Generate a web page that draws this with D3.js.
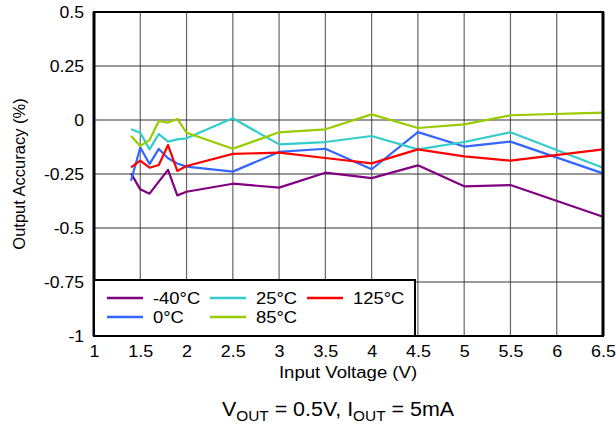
<!DOCTYPE html>
<html>
<head>
<meta charset="utf-8">
<script src="https://cdn.jsdelivr.net/npm/d3@7"></script>
<style>
  body { margin: 0; background: #fff; }
  text { font-family: "Liberation Sans", Arial, sans-serif; }
</style>
</head>
<body>
<div id="chart"></div>
<script>
var voltages = [1.4, 1.5, 1.6, 1.7, 1.8, 1.9, 2.0, 2.5, 3, 3.5, 4, 4.5, 5, 5.5, 6.5];

var seriesNames = ["-40°C", "0°C", "25°C", "85°C", "125°C"];
var seriesColors = ["#800080", "#3366ff", "#33cccc", "#99cc00", "#ff0000"];

var minus40 = [-0.247, -0.321, -0.341, -0.285, -0.231, -0.349, -0.332, -0.295, -0.313, -0.244, -0.269, -0.21, -0.307, -0.301, -0.448];
var zero = [-0.281, -0.127, -0.204, -0.134, -0.177, -0.201, -0.216, -0.239, -0.148, -0.133, -0.228, -0.056, -0.123, -0.100, -0.247];
var plus25 = [-0.043, -0.059, -0.136, -0.065, -0.100, -0.090, -0.085, 0.008, -0.113, -0.102, -0.074, -0.136, -0.102, -0.057, -0.221];
var plus85 = [-0.074, -0.120, -0.093, -0.005, -0.012, 0.005, -0.059, -0.133, -0.057, -0.043, 0.026, -0.037, -0.020, 0.022, 0.034];
var plus125 = [-0.219, -0.188, -0.221, -0.208, -0.116, -0.236, -0.213, -0.157, -0.151, -0.176, -0.201, -0.136, -0.168, -0.188, -0.136];

var seriesValues = [minus40, zero, plus25, plus85, plus125];

var xTicks = [1, 1.5, 2, 2.5, 3, 3.5, 4, 4.5, 5, 5.5, 6, 6.5];
var yTicks = [0.5, 0.25, 0, -0.25, -0.5, -0.75, -1];

var plotLeft = 94, plotRight = 603, plotTop = 12, plotBottom = 336;

var svg = d3.select("#chart").append("svg")
            .attr("width", 616)
            .attr("height", 424);

var x = d3.scaleLinear().domain([1, 6.5]).range([plotLeft, plotRight]);
var y = d3.scaleLinear().domain([-1, 0.5]).range([plotBottom, plotTop]);

// grid
svg.selectAll("line.vgrid")
   .data(xTicks)
   .enter()
   .append("line")
   .attr("x1", function (d) { return x(d); })
   .attr("x2", function (d) { return x(d); })
   .attr("y1", plotTop)
   .attr("y2", plotBottom)
   .style("stroke", "#666")
   .style("stroke-width", 1.2);

svg.selectAll("line.hgrid")
   .data(yTicks)
   .enter()
   .append("line")
   .attr("x1", plotLeft)
   .attr("x2", plotRight)
   .attr("y1", function (d) { return y(d); })
   .attr("y2", function (d) { return y(d); })
   .style("stroke", "#333")
   .style("stroke-width", 1.2);

// series lines
var line = d3.line()
             .x(function (d, i) { return x(voltages[i]); })
             .y(function (d) { return y(d); });

svg.selectAll("path.series")
   .data(seriesValues)
   .enter()
   .append("path")
   .attr("d", function (d) { return line(d); })
   .style("fill", "none")
   .style("stroke", function (d, i) { return seriesColors[i]; })
   .style("stroke-width", 2.2)
   .style("stroke-linejoin", "round");

// frame
svg.append("rect")
   .attr("x", plotLeft)
   .attr("y", plotTop)
   .attr("width", plotRight - plotLeft)
   .attr("height", plotBottom - plotTop)
   .style("fill", "none")
   .style("stroke", "#000")
   .style("stroke-width", 2);
svg.append("line")
   .attr("x1", plotLeft).attr("x2", plotLeft)
   .attr("y1", plotTop).attr("y2", plotBottom)
   .style("stroke", "#000")
   .style("stroke-width", 3);
svg.append("line")
   .attr("x1", plotRight).attr("x2", plotRight)
   .attr("y1", plotTop).attr("y2", plotBottom)
   .style("stroke", "#000")
   .style("stroke-width", 3);

// axes labels (text in the original is a bit wide, so stretch it)
var xAxis = d3.axisBottom(x).tickValues(xTicks).tickSize(0).tickPadding(10)
              .tickFormat(function (d) { return d; });
var gx = svg.append("g").attr("transform", "translate(0," + plotBottom + ")").call(xAxis);
gx.select(".domain").remove();
gx.selectAll("text").style("font-size", "16px").style("fill", "#000")
  .style("font-family", "'Liberation Sans', Arial, sans-serif")
  .attr("transform", "scale(1.12,1)");

var yAxis = d3.axisLeft(y).tickValues(yTicks).tickSize(0).tickPadding(0)
              .tickFormat(function (d) { return d; });
var gy = svg.append("g").attr("transform", "translate(" + plotLeft + ",0)").call(yAxis);
gy.select(".domain").remove();
gy.selectAll("text").style("font-size", "16px").style("fill", "#000")
  .style("font-family", "'Liberation Sans', Arial, sans-serif")
  .attr("x", -10 / 1.1)
  .attr("transform", "scale(1.1,1)");

svg.append("g")
   .attr("transform", "translate(348,378) scale(1.16,1)")
   .append("text")
   .attr("text-anchor", "middle")
   .style("font-size", "16px")
   .text("Input Voltage (V)");

svg.append("text")
   .attr("transform", "translate(25," + ((plotTop + plotBottom) / 2) + ") rotate(-90)")
   .attr("text-anchor", "middle")
   .style("font-size", "16.5px")
   .text("Output Accuracy (%)");

var caption = svg.append("g")
   .attr("transform", "translate(338,416) scale(1.1,1)")
   .append("text")
   .attr("text-anchor", "middle")
   .style("font-size", "19.5px");
caption.append("tspan").text("V");
caption.append("tspan").attr("dy", 5).style("font-size", "14px").text("OUT");
caption.append("tspan").attr("dy", -5).text(" = 0.5V, I");
caption.append("tspan").attr("dy", 5).style("font-size", "14px").text("OUT");
caption.append("tspan").attr("dy", -5).text(" = 5mA");

// legend
svg.append("rect")
   .attr("x", 94)
   .attr("y", 280)
   .attr("width", 321)
   .attr("height", 56)
   .style("fill", "#fff")
   .style("stroke", "#000")
   .style("stroke-width", 2);

var legendPos = [[107, 298], [107, 317], [210, 298], [210, 317], [307, 298]];

var legend = svg.selectAll("g.legend")
                .data(seriesNames)
                .enter()
                .append("g")
                .attr("transform", function (d, i) {
                    return "translate(" + legendPos[i][0] + "," + legendPos[i][1] + ")";
                });

legend.append("line")
      .attr("x1", 0).attr("x2", 36)
      .attr("y1", 0).attr("y2", 0)
      .style("stroke", function (d, i) { return seriesColors[i]; })
      .style("stroke-width", 2.5);

legend.append("g")
      .attr("transform", "translate(46,6) scale(1.15,1)")
      .append("text")
      .style("font-size", "16px")
      .text(function (d) { return d; });
</script>
</body>
</html>
